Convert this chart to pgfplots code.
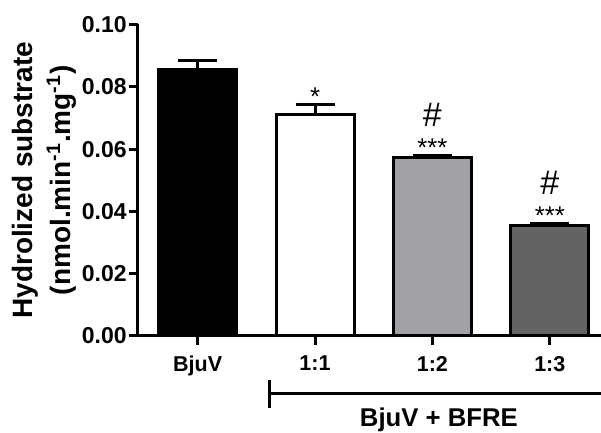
\documentclass[border=0pt]{standalone}
\usepackage{pgfplots}
\pgfplotsset{compat=1.18}
\usepackage{fontspec}
\setmainfont{Liberation Sans}
\definecolor{lightbar}{RGB}{161,162,166}
\definecolor{darkbar}{RGB}{99,99,99}
\begin{document}
\begin{tikzpicture}
\useasboundingbox (-69pt,-48.5pt) rectangle (231.5pt,168pt);
\begin{axis}[
  at={(0,0)}, anchor=south west,
  scale only axis, width=231.5pt, height=155.75pt,
  xmin=-0.5077, xmax=3.436, ymin=0, ymax=0.1,
  axis x line*=bottom, axis y line*=left,
  axis line style={line width=1.5pt, black},
  every tick/.style={line width=1.5pt, black},
  tick align=outside, major tick length=4.5pt,
  xtick={0,1,2,3}, xticklabels={BjuV,1:1,1:2,1:3},
  ytick={0,0.02,0.04,0.06,0.08,0.1},
  yticklabel style={font=\fontsize{11.5}{13}\selectfont\bfseries, inner sep=1pt,
    /pgf/number format/fixed, /pgf/number format/fixed zerofill,
    /pgf/number format/precision=2, /pgf/number format/assume math mode=true},
  xticklabel style={font=\fontsize{10.75}{13}\selectfont\bfseries, yshift=-2pt},
  ylabel={Hydrolized substrate\\(nmol.min\textsuperscript{-1}.mg\textsuperscript{-1})},
  ylabel style={font=\fontsize{14}{19}\selectfont\bfseries, align=center, at={(rel axis cs:0,0.5)}, anchor=south, inner sep=0pt, yshift=30.5pt},
  clip=false,
  bar width=39pt,
  every axis plot/.append style={ybar, bar shift=0pt, draw=black, line width=1.5pt,
    error bars/y dir=plus, error bars/y explicit,
    error bars/error bar style={line width=1.5pt, black},
    error bars/error mark options={rotate=90, mark size=9.75pt, line width=1.5pt, black}},
]
\addplot[fill=black] coordinates {(0,0.0857) +- (0,0.0027)};
\addplot[fill=white] coordinates {(1,0.0711) +- (0,0.0033)};
\addplot[fill=lightbar] coordinates {(2,0.0574) +- (0,0.0006)};
\addplot[fill=darkbar] coordinates {(3,0.0355) +- (0,0.0005)};
\node[font=\fontsize{12.85}{14}\selectfont, yshift=-6pt] at (axis cs:1,0.0806) {*};
\node[font=\fontsize{17}{18}\selectfont] at (axis cs:2,0.0709) {\#};
\node[font=\fontsize{12.85}{14}\selectfont, yshift=-5.5pt] at (axis cs:2,0.0639) {***};
\node[font=\fontsize{17}{18}\selectfont] at (axis cs:3,0.0491) {\#};
\node[font=\fontsize{12.85}{14}\selectfont, yshift=-5.5pt] at (axis cs:3,0.0421) {***};
\draw[line width=1.5pt] (axis cs:0.616,-0.01413) -- (axis cs:0.616,-0.02311);
\draw[line width=1.5pt] (axis cs:0.616,-0.01862) -- (axis cs:3.5,-0.01862);
\node[font=\fontsize{12.85}{14}\selectfont\bfseries] at (axis cs:2.055,-0.02697) {BjuV + BFRE};
\end{axis}
\end{tikzpicture}
\end{document}
